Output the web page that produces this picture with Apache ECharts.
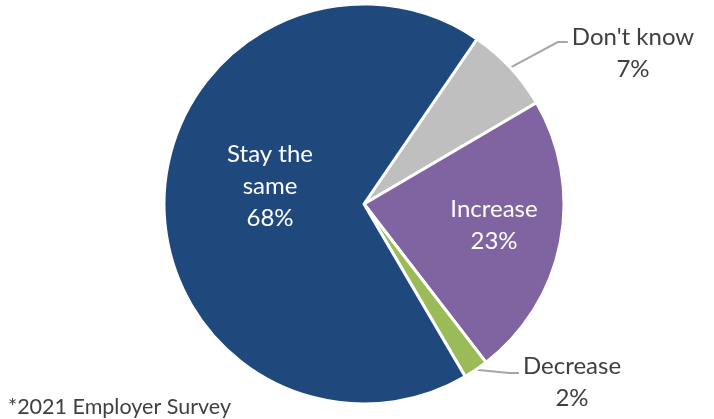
<!DOCTYPE html>
<html>
<head>
<meta charset="utf-8">
<style>
  html, body { margin: 0; padding: 0; background: #fff; }
  #chart { width: 714px; height: 419px; }
</style>
<script src="https://cdn.jsdelivr.net/npm/echarts@6/dist/echarts.min.js"></script>
</head>
<body>
<div id="chart"></div>
<script>
// Expected change in hiring, share of employers
const categories = ["Don't know", 'Increase', 'Decrease', 'Stay the same'];
const shares = [7, 23, 2, 68];
const sliceColors = ['#BFBFBF', '#8064A2', '#9BBB59', '#1F497D'];
const footnote = '*2021 Employer Survey';

const FONT = 'Lato, "Open Sans", sans-serif';

// where each label block is centred, and whether it sits on the slice
const labelSpots = {
  "Don't know": { x: 633, y: 53, inside: false },
  'Increase': { x: 494, y: 225, inside: true },
  'Decrease': { x: 572, y: 382, inside: false },
  'Stay the same': { x: 270, y: 186, inside: true }
};

const chart = echarts.init(document.getElementById('chart'), null, { renderer: 'canvas' });

chart.setOption({
  animation: false,
  graphic: [{
    type: 'text',
    left: 8,
    bottom: 1,
    style: { text: footnote, font: '21.5px ' + FONT, fill: '#404040' }
  }],
  series: [{
    type: 'pie',
    center: [364, 204],
    radius: [0, 200],
    startAngle: 55.6,
    clockwise: true,
    avoidLabelOverlap: false,
    itemStyle: { borderColor: '#ffffff', borderWidth: 3 },
    label: {
      position: 'outside',
      fontFamily: FONT,
      fontSize: 24,
      lineHeight: 32,
      color: '#404040',
      formatter: function (p) {
        const name = p.name === 'Stay the same' ? 'Stay the\nsame' : p.name;
        return name + '\n' + p.value + '%';
      }
    },
    labelLine: {
      show: true,
      length: 36,
      length2: 14,
      lineStyle: { color: '#A6A6A6', width: 2 }
    },
    labelLayout: function (params) {
      const name = categories[params.dataIndex];
      const spot = labelSpots[name];
      const out = { x: spot.x, y: spot.y, align: 'center', verticalAlign: 'middle' };
      const pts = params.labelLinePoints;
      if (pts && !spot.inside) {
        const halfW = params.labelRect.width / 2;
        const left = spot.x - halfW;
        const endY = name === 'Decrease' ? spot.y - 9 : spot.y - 11;
        pts[1] = [left - 14, endY];
        pts[2] = [left - 4, endY];
        out.labelLinePoints = pts;
      }
      return out;
    },
    data: categories.map(function (c, i) {
      const spot = labelSpots[c];
      const item = {
        name: c,
        value: shares[i],
        itemStyle: { color: sliceColors[i] }
      };
      if (spot.inside) {
        item.label = { color: '#ffffff' };
        item.labelLine = { show: false };
      }
      return item;
    })
  }]
});
</script>
</body>
</html>
